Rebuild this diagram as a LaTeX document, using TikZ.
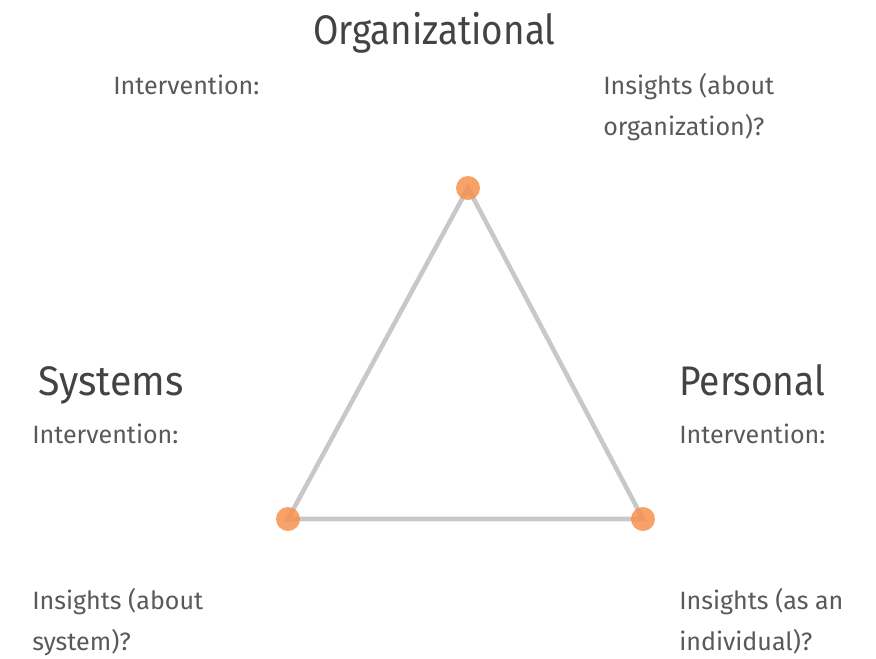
\documentclass[tikz,border=0pt]{standalone}
\usepackage{fontspec}
\setmainfont{Fira Sans}
\definecolor{dotc}{HTML}{F7904F}
\definecolor{linec}{HTML}{C8C8C8}
\definecolor{titlec}{HTML}{434343}
\definecolor{bodyc}{HTML}{595959}
\begin{document}
\begin{tikzpicture}[x=0.75pt,y=-0.75pt,
  title/.style={anchor=base west,inner sep=0pt,text=titlec,font=\fontsize{31}{36}\selectfont},
  body/.style={anchor=base west,inner sep=0pt,text=bodyc,align=left,font=\fontsize{18.8}{30.5}\selectfont},
  edge/.style={draw=linec,line width=3.4pt},
  dot/.style={circle,fill=dotc,fill opacity=0.85,minimum size=18pt,inner sep=0pt}]
\useasboundingbox (0,0) rectangle (876,658);
\coordinate (O) at (468,188);
\coordinate (S) at (288,519);
\coordinate (P) at (643,519);
\draw[edge] (O) -- (S) -- (P) -- cycle;
\node[dot] (dO) at (O) {};
\node[dot] (dS) at (S) {};
\node[dot] (dP) at (P) {};
\node[title] (tO) at (313,44) {\scalebox{0.89}[1]{Organizational}};
\node[title] (tS) at (38,395) {\scalebox{0.95}[1]{Systems}};
\node[title] (tP) at (679,395) {\scalebox{0.90}[1]{Personal}};
\node[body] (iO) at (113,94) {Intervention:};
\node[body] (gO) at (603,135) {Insights (about\\organization)?};
\node[body] (iS) at (32,443) {Intervention:};
\node[body] (gS) at (32,650) {Insights (about\\system)?};
\node[body] (iP) at (679,443) {Intervention:};
\node[body] (gP) at (679,650) {Insights (as an\\individual)?};
\end{tikzpicture}
\end{document}
